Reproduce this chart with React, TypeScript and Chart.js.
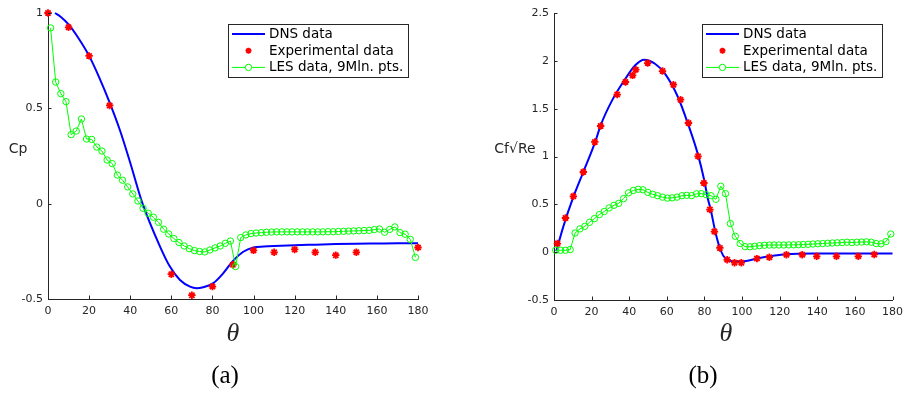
import React, { useEffect, useRef } from "react";
import { Chart, registerables } from "chart.js";

Chart.register(...registerables);

// ---------- Data: panel (a) pressure coefficient ----------
const thetaTicks = [0, 20, 40, 60, 80, 100, 120, 140, 160, 180];
const cpTicks = [-0.5, 0, 0.5, 1];
const cfTicks = [-0.5, 0, 0.5, 1, 1.5, 2, 2.5];

const cpDnsTheta = [3.4, 6, 10, 15, 20, 25, 30, 35, 40, 46, 54.5, 59.3, 64.2, 69.1, 72.3, 75, 80.4, 85, 90, 95, 100, 105, 110, 120, 130, 140, 150, 160, 170, 180];
const cpDnsValue = [1.0, 0.982, 0.94, 0.865, 0.775, 0.66, 0.53, 0.385, 0.215, 0.0, -0.225, -0.33, -0.4, -0.435, -0.443, -0.44, -0.417, -0.368, -0.3, -0.252, -0.23, -0.225, -0.222, -0.218, -0.215, -0.212, -0.21, -0.209, -0.208, -0.208];

const cpExpTheta = [0, 10, 20, 30, 60, 70, 80, 90, 100, 110, 120, 130, 140, 150, 180];
const cpExpValue = [1.0, 0.925, 0.775, 0.515, -0.37, -0.48, -0.435, -0.32, -0.245, -0.255, -0.24, -0.255, -0.27, -0.255, -0.23];

const cpLesTheta = [1.25, 3.75, 6.25, 8.75, 11.25, 13.75, 16.25, 18.75, 21.25, 23.75, 26.25, 28.75, 31.25, 33.75, 36.25, 38.75, 41.25, 43.75, 46.25, 48.75, 51.25, 53.75, 56.25, 58.75, 61.25, 63.75, 66.25, 68.75, 71.25, 73.75, 76.25, 78.75, 81.25, 83.75, 86.25, 88.75, 91.25, 93.75, 96.25, 98.75, 101.25, 103.75, 106.25, 108.75, 111.25, 113.75, 116.25, 118.75, 121.25, 123.75, 126.25, 128.75, 131.25, 133.75, 136.25, 138.75, 141.25, 143.75, 146.25, 148.75, 151.25, 153.75, 156.25, 158.75, 161.25, 163.75, 166.25, 168.75, 171.25, 173.75, 176.25, 178.75];
const cpLesValue = [0.922, 0.638, 0.577, 0.535, 0.362, 0.381, 0.444, 0.339, 0.337, 0.297, 0.276, 0.229, 0.21, 0.15, 0.123, 0.088, 0.051, 0.014, -0.024, -0.05, -0.071, -0.098, -0.134, -0.159, -0.183, -0.204, -0.222, -0.236, -0.246, -0.251, -0.253, -0.243, -0.232, -0.222, -0.208, -0.196, -0.33, -0.178, -0.164, -0.157, -0.154, -0.152, -0.15, -0.149, -0.148, -0.148, -0.148, -0.148, -0.148, -0.148, -0.148, -0.148, -0.148, -0.148, -0.147, -0.147, -0.146, -0.145, -0.144, -0.143, -0.142, -0.141, -0.14, -0.136, -0.133, -0.15, -0.135, -0.122, -0.152, -0.16, -0.187, -0.282];

// ---------- Data: panel (b) skin friction ----------
const cfDnsTheta = [1.2, 5, 10.3, 15.6, 22.2, 24.8, 30.9, 38, 43.2, 47.9, 53.7, 59, 65.9, 71.2, 76.4, 79.9, 81.6, 83.4, 86, 88.6, 91.2, 95.6, 100, 107.9, 114.8, 123.6, 137.6, 150, 165, 180];
const cfDnsValue = [0.01, 0.27, 0.577, 0.838, 1.169, 1.326, 1.587, 1.814, 1.953, 2.012, 1.97, 1.866, 1.622, 1.344, 1.03, 0.751, 0.577, 0.438, 0.194, 0.02, -0.067, -0.095, -0.095, -0.067, -0.043, -0.022, -0.015, -0.015, -0.015, -0.015];

const cfExpTheta = [1.8, 6.1, 10.3, 15.6, 21.7, 24.8, 33.6, 38, 41.8, 43.5, 49.8, 57.7, 63.5, 67.3, 71.5, 76.6, 79.7, 82.9, 85.3, 88.2, 92.1, 96, 99.6, 107.9, 114.5, 123.6, 132, 139.7, 150.2, 161.8, 170.3];
const cfExpValue = [0.09, 0.357, 0.584, 0.838, 1.152, 1.319, 1.647, 1.779, 1.848, 1.908, 1.977, 1.893, 1.751, 1.594, 1.35, 1.002, 0.723, 0.445, 0.215, 0.044, -0.08, -0.11, -0.11, -0.067, -0.053, -0.027, -0.027, -0.043, -0.043, -0.043, -0.024];

const cfLesTheta = [0.9, 3.5, 6.1, 8.6, 11.2, 13.8, 16.4, 18.9, 21.5, 24.1, 26.7, 29.3, 31.9, 34.4, 37.0, 39.6, 42.2, 44.8, 47.3, 49.9, 52.5, 55.1, 57.7, 60.3, 62.8, 65.4, 68.0, 70.6, 73.2, 75.8, 78.3, 80.9, 83.5, 86.1, 88.7, 91.2, 93.8, 96.4, 99.0, 101.6, 104.2, 106.7, 109.3, 111.9, 114.5, 117.0, 119.6, 122.2, 124.8, 127.4, 130.0, 132.5, 135.1, 137.7, 140.3, 142.9, 145.5, 148.0, 150.6, 153.2, 155.8, 158.4, 161.0, 163.6, 166.2, 168.7, 171.3, 173.9, 176.5, 179.1];
const cfLesValue = [0.02, 0.02, 0.02, 0.027, 0.2, 0.243, 0.27, 0.312, 0.351, 0.393, 0.424, 0.462, 0.49, 0.51, 0.56, 0.62, 0.645, 0.657, 0.652, 0.625, 0.605, 0.59, 0.575, 0.565, 0.568, 0.575, 0.59, 0.594, 0.591, 0.61, 0.612, 0.601, 0.59, 0.553, 0.689, 0.612, 0.299, 0.166, 0.09, 0.058, 0.056, 0.062, 0.068, 0.072, 0.074, 0.075, 0.075, 0.075, 0.076, 0.077, 0.078, 0.08, 0.082, 0.085, 0.088, 0.09, 0.093, 0.096, 0.098, 0.1, 0.104, 0.1, 0.104, 0.106, 0.108, 0.104, 0.09, 0.087, 0.11, 0.19];

const legendLabels = ["DNS data", "Experimental data", "LES data, 9Mln. pts."];

// ---------- styles ----------
const AXIS = "#262626";
const FONT = "'DejaVu Sans', sans-serif";
const BLUE = "#0000ff";
const RED = "#ff0000";
const GREEN = "#00ff00";

const pts = (xs: number[], ys: number[]) => xs.map((x, i) => ({ x, y: ys[i] }));

const inwardTicks = {
  id: "inwardTicks",
  afterDraw(chart: any) {
    const { ctx, chartArea, scales } = chart;
    ctx.save();
    ctx.strokeStyle = AXIS;
    ctx.lineWidth = 1;
    const xs = scales.x;
    xs.ticks.forEach((t: any) => {
      const px = Math.round(xs.getPixelForValue(t.value)) + 0.5;
      ctx.beginPath();
      ctx.moveTo(px, chartArea.bottom);
      ctx.lineTo(px, chartArea.bottom - 3.5);
      ctx.stroke();
    });
    const ys = scales.y;
    ys.ticks.forEach((t: any) => {
      const py = Math.round(ys.getPixelForValue(t.value)) + 0.5;
      ctx.beginPath();
      ctx.moveTo(chartArea.left, py);
      ctx.lineTo(chartArea.left + 3.5, py);
      ctx.stroke();
    });
    ctx.restore();
  },
};

function drawStar(ctx: CanvasRenderingContext2D, x: number, y: number, r: number) {
  ctx.beginPath();
  ctx.moveTo(x - r, y); ctx.lineTo(x + r, y);
  ctx.moveTo(x, y - r); ctx.lineTo(x, y + r);
  const d = r * 0.7071;
  ctx.moveTo(x - d, y - d); ctx.lineTo(x + d, y + d);
  ctx.moveTo(x - d, y + d); ctx.lineTo(x + d, y - d);
  ctx.stroke();
}

const insideLegend = {
  id: "insideLegend",
  afterDraw(chart: any, _args: any, opts: any) {
    const { ctx, chartArea } = chart;
    const w = opts.width;
    const h = opts.height;
    const left = Math.round(chartArea.right - opts.inset - w);
    const top = Math.round(chartArea.top + opts.inset);
    ctx.save();
    ctx.fillStyle = "#ffffff";
    ctx.fillRect(left, top, w, h);
    ctx.strokeStyle = AXIS;
    ctx.lineWidth = 1;
    ctx.strokeRect(left + 0.5, top + 0.5, w, h);
    ctx.font = `${opts.fontSize}px ${FONT}`;
    ctx.textBaseline = "middle";
    ctx.textAlign = "left";
    chart.data.datasets.forEach((ds: any, i: number) => {
      const y = top + opts.rowStart + i * opts.rowGap;
      const x0 = left + 4;
      const x1 = left + 37;
      const xm = (x0 + x1) / 2;
      if (ds.showLine) {
        ctx.strokeStyle = ds.borderColor;
        ctx.lineWidth = ds.borderWidth;
        ctx.beginPath();
        ctx.moveTo(x0, y);
        ctx.lineTo(x1, y);
        ctx.stroke();
      }
      if (ds.pointRadius > 0) {
        ctx.strokeStyle = ds.pointBorderColor;
        ctx.lineWidth = ds.pointBorderWidth;
        if (ds.pointStyle === "star") {
          drawStar(ctx, xm, y, 3);
        } else {
          ctx.beginPath();
          ctx.arc(xm, y, ds.pointRadius, 0, Math.PI * 2);
          ctx.fillStyle = "#ffffff";
          ctx.fill();
          ctx.stroke();
        }
      }
      ctx.fillStyle = "#000000";
      ctx.fillText(legendLabels[i], left + 41, y + 0.5);
    });
    ctx.restore();
  },
};

function makeConfig(opts: {
  dns: any[]; exp: any[]; les: any[]; yMin: number; yMax: number; yTicks: number[];
  padLeft: number; padRight: number; padTop: number; yWidth: number; xHeight: number;
}): any {
  return {
    type: "scatter",
    data: {
      datasets: [
        {
          label: legendLabels[0], data: opts.dns, showLine: true, borderColor: BLUE, borderWidth: 2,
          pointRadius: 0, pointHoverRadius: 0, cubicInterpolationMode: "monotone", order: 3, clip: false,
        },
        {
          label: legendLabels[1], data: opts.exp, showLine: false, pointStyle: "star", pointRadius: 3.7,
          pointBorderColor: RED, pointBackgroundColor: RED, pointBorderWidth: 1.8, borderColor: RED, order: 2, clip: false,
        },
        {
          label: legendLabels[2], data: opts.les, showLine: true, borderColor: GREEN, borderWidth: 1, tension: 0,
          pointStyle: "circle", pointRadius: 3.2, pointBorderColor: GREEN, pointBackgroundColor: "rgba(0,0,0,0)",
          pointBorderWidth: 1, order: 1, clip: false,
        },
      ],
    },
    options: {
      responsive: false,
      animation: false,
      events: [],
      layout: { padding: { left: opts.padLeft, right: opts.padRight, top: opts.padTop, bottom: 0 } },
      plugins: {
        legend: { display: false },
        tooltip: { enabled: false },
        insideLegend: { width: 180, height: 53, inset: 10.5, rowStart: 10, rowGap: 16.7, fontSize: 13.5 },
      },
      scales: {
        x: {
          type: "linear", min: 0, max: 180,
          grid: { display: false, drawTicks: false },
          border: { display: true, color: AXIS, width: 1 },
          ticks: { color: AXIS, font: { family: FONT, size: 11 }, padding: 6, maxRotation: 0, autoSkip: false, callback: (v: number) => String(v) },
          afterBuildTicks: (s: any) => { s.ticks = thetaTicks.map((value) => ({ value })); },
          afterFit: (s: any) => { s.height = opts.xHeight; },
        },
        y: {
          type: "linear", min: opts.yMin, max: opts.yMax,
          grid: { display: false, drawTicks: false },
          border: { display: true, color: AXIS, width: 1 },
          ticks: { color: AXIS, font: { family: FONT, size: 11 }, padding: 5, autoSkip: false, callback: (v: number) => String(v) },
          afterBuildTicks: (s: any) => { s.ticks = opts.yTicks.map((value) => ({ value })); },
          afterFit: (s: any) => { s.width = opts.yWidth; },
        },
      },
    },
    plugins: [inwardTicks, insideLegend],
  };
}

const textBase: React.CSSProperties = {
  position: "absolute",
  whiteSpace: "nowrap",
  lineHeight: 1,
  transform: "translate(-50%, -50%)",
};

export default function App() {
  const refA = useRef<HTMLCanvasElement>(null);
  const refB = useRef<HTMLCanvasElement>(null);

  useEffect(() => {
    const a = new Chart(refA.current as HTMLCanvasElement, makeConfig({
      dns: pts(cpDnsTheta, cpDnsValue), exp: pts(cpExpTheta, cpExpValue), les: pts(cpLesTheta, cpLesValue),
      yMin: -0.5, yMax: 1, yTicks: cpTicks,
      padLeft: 0, padRight: 491, padTop: 13, yWidth: 48, xHeight: 95,
    }));
    const b = new Chart(refB.current as HTMLCanvasElement, makeConfig({
      dns: pts(cfDnsTheta, cfDnsValue), exp: pts(cfExpTheta, cfExpValue), les: pts(cfLesTheta, cfLesValue),
      yMin: -0.5, yMax: 2.5, yTicks: cfTicks,
      padLeft: 500, padRight: 11, padTop: 13, yWidth: 54, xHeight: 94,
    }));
    return () => { a.destroy(); b.destroy(); };
  }, []);

  return (
    <div style={{ position: "absolute", left: 0, top: 0, width: 909, height: 394, background: "#ffffff", overflow: "hidden" }}>
      <canvas ref={refA} width={909} height={394} style={{ position: "absolute", left: 0, top: 0 }} />
      <canvas ref={refB} width={909} height={394} style={{ position: "absolute", left: 0, top: 0 }} />
      <div style={{ ...textBase, left: 18, top: 148, fontFamily: FONT, fontSize: 14, color: AXIS }}>Cp</div>
      <div style={{ ...textBase, left: 515, top: 148, fontFamily: FONT, fontSize: 14, color: AXIS }}>Cf√Re</div>
      <div style={{ ...textBase, left: 233, top: 333, fontFamily: "'Liberation Serif', serif", fontStyle: "italic", fontSize: 26, color: AXIS }}>θ</div>
      <div style={{ ...textBase, left: 726, top: 333, fontFamily: "'Liberation Serif', serif", fontStyle: "italic", fontSize: 26, color: AXIS }}>θ</div>
      <div style={{ ...textBase, left: 225, top: 374, fontFamily: "'Liberation Serif', serif", fontSize: 25, color: "#000" }}>(a)</div>
      <div style={{ ...textBase, left: 703, top: 374, fontFamily: "'Liberation Serif', serif", fontSize: 25, color: "#000" }}>(b)</div>
    </div>
  );
}
